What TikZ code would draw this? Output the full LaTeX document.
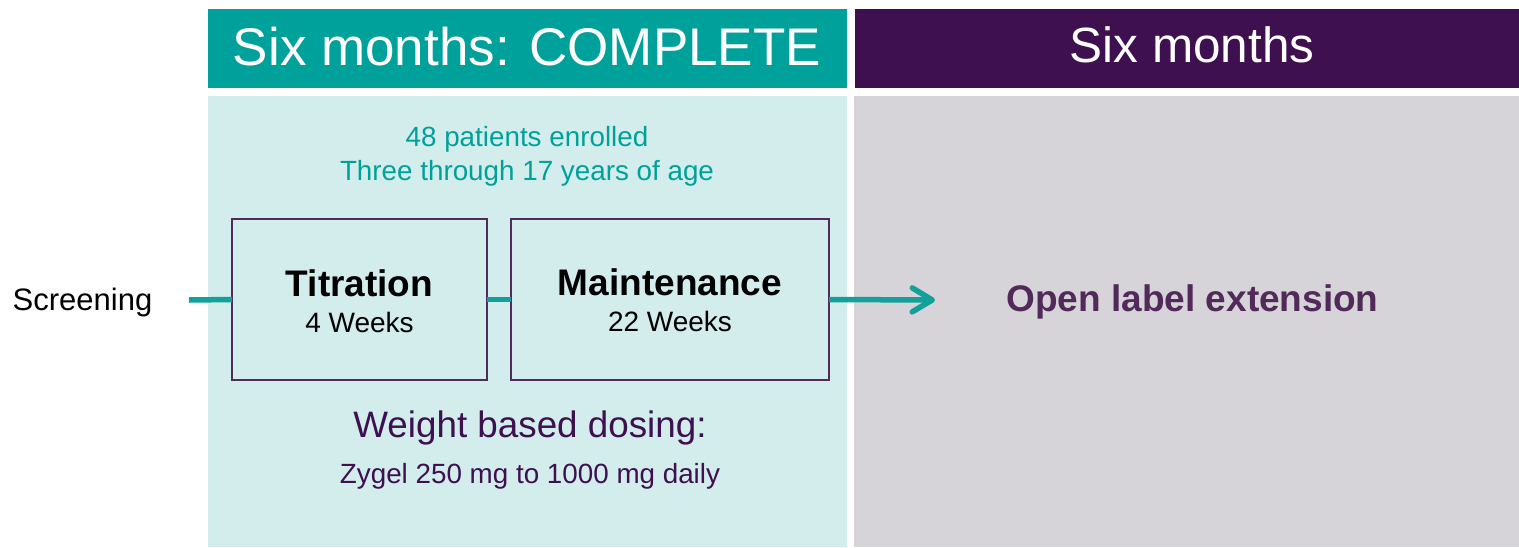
\documentclass[tikz,border=0pt]{standalone}
\usepackage{fontspec}
\setmainfont{Liberation Sans}
\usetikzlibrary{arrows.meta}
\definecolor{tealhead}{HTML}{00A19A}
\definecolor{tealbody}{HTML}{D3EDEC}
\definecolor{purphead}{HTML}{3E1050}
\definecolor{graybody}{HTML}{D6D3D9}
\definecolor{boxline}{HTML}{4F2A5A}
\definecolor{oletext}{HTML}{512A5A}
\definecolor{arrowcol}{HTML}{12A09A}
\newcommand{\fs}[1]{\fontsize{#1}{#1}\selectfont}
\tikzset{
  panel/.style={draw=none, inner sep=0pt, outer sep=0pt},
  phasebox/.style={draw=boxline, line width=2.5pt, fill=tealbody, inner sep=0pt, outer sep=0pt, align=center},
  conn/.style={draw=arrowcol, line width=5.5pt},
  txt/.style={inner sep=0pt, outer sep=0pt, anchor=base}
}
\begin{document}
\begin{tikzpicture}[x=1pt,y=-1pt]
\useasboundingbox (0,0) rectangle (1519,547);
% panels
\fill[tealhead] (208,9) rectangle (847,88);
\fill[purphead] (855,9) rectangle (1519,88);
\fill[tealbody] (208,96) rectangle (847,547);
\fill[graybody] (854,96) rectangle (1519,547);
% headers
\node[txt, text=white] (h1) at (527,65) {\fs{53}Six months: COMPLETE};
\node[txt, text=white] (h2) at (1192,62) {\fs{49.5}Six months};
% teal info text
\node[txt, text=tealhead] (info1) at (527,146.5) {\fs{27.8}48 patients enrolled};
\node[txt, text=tealhead] (info2) at (527,180) {\fs{27.8}Three through 17 years of age};
% boxes
\node[phasebox, minimum width=255pt, minimum height=161pt] (tit) at (359.5,299.5) {};
\node[phasebox, minimum width=318pt, minimum height=161pt] (maint) at (670,299.5) {};
\node[txt] (titA) at (359.5,296.5) {\fs{37}\bfseries Titration};
\node[txt] (titB) at (359.5,332.5) {\fs{28}4 Weeks};
\node[txt] (mainA) at (670,295.5) {\fs{37}\bfseries Maintenance};
\node[txt] (mainB) at (670,331.5) {\fs{28}22 Weeks};
% screening
\node[txt] (scr) at (82.5,310) {\fs{31}Screening};
\coordinate (start) at (189,300);
\coordinate (tip) at (935,300);
% connectors
\draw[conn] (start) -- (tit.west);
\draw[conn] (tit.east) -- (maint.west);
\draw[conn, -{Straight Barb[length=20pt,width=24pt,round]}] (maint.east) -- (tip);
% right text
\node[txt, text=oletext] (ole) at (1192.5,311.5) {\fs{37}\bfseries Open label extension};
% dosing
\node[txt, text=purphead] (dose1) at (530,437.5) {\fs{36.8}Weight based dosing:};
\node[txt, text=purphead] (dose2) at (530,483.5) {\fs{27.8}Zygel 250 mg to 1000 mg daily};
\end{tikzpicture}
\end{document}
